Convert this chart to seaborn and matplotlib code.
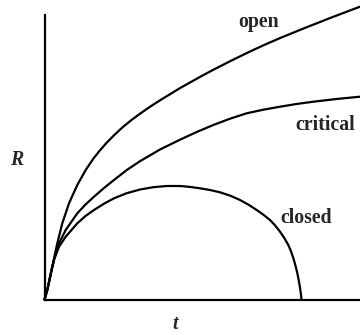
import matplotlib
matplotlib.use("Agg")
import matplotlib.pyplot as plt
import seaborn as sns
import pandas as pd

# Curve samples (t, R)
open_t = [0, 2.8, 7.8, 12.8, 17.8, 24.5, 32.8, 41.2, 48.8, 55.5, 62.2, 70, 78.5, 87,
          95.5, 105.5, 115.5, 135.5, 155.5, 168.8, 187, 205.5, 220.5, 235.5, 260.5,
          288.5, 315.5]
open_R = [0, 9.5, 32.8, 56.2, 76.2, 96.2, 114.5, 129.5, 140.8, 149.2, 156.8, 164.7,
          172.6, 179.5, 185.8, 192.7, 199.2, 211.4, 222.6, 229.7, 239, 248, 254.9,
          261.4, 271.6, 282.6, 292.8]

crit_t = [0, 2.8, 7.8, 12.8, 21.2, 32.8, 41, 49.5, 59.5, 69.5, 82, 95.5, 115.5,
          135.5, 152, 168.8, 185.5, 202.2, 218.8, 235.5, 252, 268.8, 292, 315.5]
crit_R = [0, 9.5, 32.8, 52.8, 69.5, 86.2, 95, 102.8, 111.5, 119.5, 129.3, 138.3,
          150, 159.8, 167.4, 174.5, 180.8, 186.2, 189.8, 192.8, 195.5, 197.8,
          200.5, 202.8]

closed_t = [0, 2.8, 6, 9.5, 14.5, 21.2, 32.8, 41, 49.5, 59.5, 69.5, 82, 95.5, 108.8,
            122.2, 135.5, 145.5, 155.5, 165.5, 175.5, 185.5, 195.5, 204, 212.2, 219,
            225.5, 230.5, 235.5, 239.8, 243.8, 246.3, 248.8, 250.8, 252.8, 254.2,
            255.5, 256.4, 257.0]
closed_R = [0, 9.5, 24.5, 39.5, 52.8, 62.8, 76.2, 83.5, 89.5, 95.8, 101.2, 106.2,
            110, 112.3, 113.5, 113.5, 112.6, 111.2, 109.5, 107.2, 103.9, 99.5, 94.8,
            89.5, 84.7, 79.5, 74.2, 67.8, 61.5, 54.5, 48.8, 41.5, 34.5, 26.5, 19.5,
            12, 5.5, 0]

labels = ["open", "critical", "closed"]
label_pos = [(193.8, 272), (250.5, 170), (235.5, 76.5)]

sns.set_style("white")
plt.rcParams['font.family'] = ['Liberation Serif', 'DejaVu Serif']

fig = plt.figure(figsize=(3.6, 3.35), dpi=100)
ax = fig.add_axes([0, 0, 1, 1])

for tt, RR in [(open_t, open_R), (crit_t, crit_R), (closed_t, closed_R)]:
    df = pd.DataFrame({"t": tt, "R": RR})
    sns.lineplot(data=df, x="t", y="R", sort=False, estimator=None,
                 color="black", linewidth=1.6, ax=ax)

ax.set_xlim(-44.5, 315.5)
ax.set_ylim(-35.5, 299.5)

for s in ["top", "right"]:
    ax.spines[s].set_visible(False)
for s in ["left", "bottom"]:
    ax.spines[s].set_visible(True)
    ax.spines[s].set_color("black")
    ax.spines[s].set_linewidth(1.6)
    ax.spines[s].set_position(("data", 0))
ax.spines["left"].set_bounds(0, 284.5)
ax.spines["bottom"].set_bounds(0, 315.5)
ax.set_xticks([])
ax.set_yticks([])
ax.set_xlabel("")
ax.set_ylabel("")

for lab, (x, y) in zip(labels, label_pos):
    ax.text(x, y, lab, fontsize=14.3, fontweight="bold", ha="left", va="baseline")

ax.text(-34.5, 134.5, "R", fontsize=14.3, fontweight="bold", fontstyle="italic",
        ha="left", va="baseline")
ax.text(130.5, -29.5, "t", fontsize=14.3, fontweight="bold", fontstyle="italic",
        ha="center", va="baseline")

fig.savefig("out.png", dpi=100)
